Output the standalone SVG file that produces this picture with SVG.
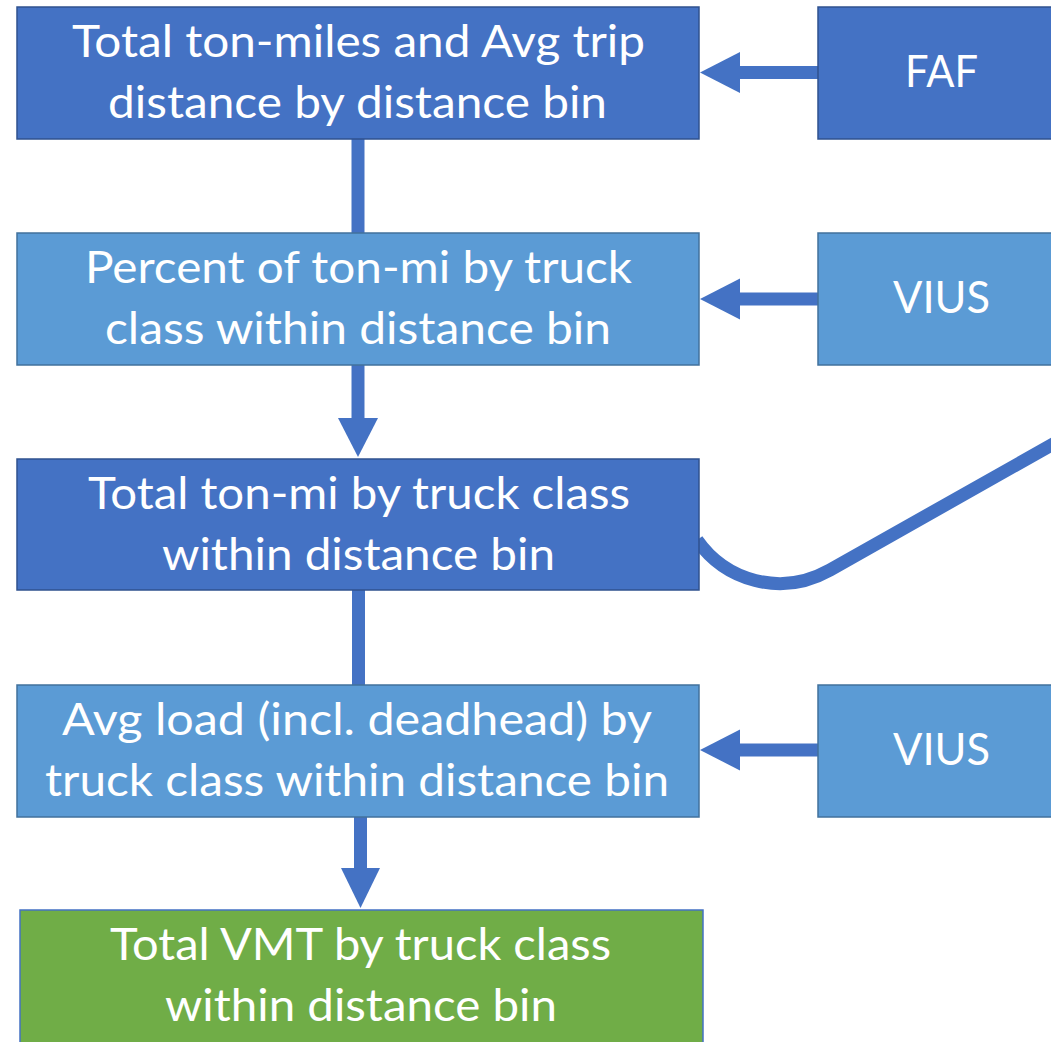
<svg xmlns="http://www.w3.org/2000/svg" width="1051" height="1042" viewBox="0 0 1051 1042">
<style>
.dark{fill:#4472C4;stroke:#2F528F;stroke-width:1.5}
.light{fill:#5B9BD5;stroke:#41719C;stroke-width:1.5}
.green{fill:#70AD47;stroke:#4472C4;stroke-width:1.5}
.t{font-family:Lato,"Open Sans","Liberation Sans",sans-serif;font-size:45px;fill:#FFFFFF;text-anchor:middle}
.c{stroke:#4472C4;stroke-width:13;fill:none}
.h{fill:#4472C4}
</style>
<rect width="1051" height="1042" fill="#FFFFFF"/>
<g id="connectors">
<line class="c" x1="818" y1="72.5" x2="738" y2="72.5"/>
<polygon class="h" points="700,72.5 740,52 740,93"/>
<line class="c" x1="818" y1="299" x2="738" y2="299"/>
<polygon class="h" points="700,299 740,278.5 740,319.5"/>
<line class="c" x1="818" y1="750" x2="738" y2="750"/>
<polygon class="h" points="700,750 740,729.5 740,770.5"/>
<line class="c" x1="358" y1="139" x2="358" y2="233"/>
<line class="c" x1="358" y1="365" x2="358" y2="420"/>
<polygon class="h" points="358,457 338,418 378,418"/>
<line class="c" x1="358.5" y1="590" x2="358.5" y2="685"/>
<line class="c" x1="360.5" y1="817" x2="360.5" y2="870"/>
<polygon class="h" points="360.5,908 341,868 380,868"/>
<path class="c" d="M697 540 C725 580 780 598 830 570 L1062 439"/>
</g>
<g id="node-totaltonmiles">
<rect class="dark" x="17" y="7" width="682" height="132"/>
<text class="t" x="358.5" y="57" textLength="573" lengthAdjust="spacingAndGlyphs">Total ton-miles and Avg trip</text>
<text class="t" x="357.5" y="118" textLength="499" lengthAdjust="spacingAndGlyphs">distance by distance bin</text>
</g>
<g id="node-faf">
<rect class="dark" x="818" y="7" width="250" height="132"/>
<text class="t" x="941.5" y="87" textLength="73" lengthAdjust="spacingAndGlyphs">FAF</text>
</g>
<g id="node-percent">
<rect class="light" x="17" y="233" width="682" height="132"/>
<text class="t" x="358.5" y="283" textLength="547" lengthAdjust="spacingAndGlyphs">Percent of ton-mi by truck</text>
<text class="t" x="358" y="344" textLength="506" lengthAdjust="spacingAndGlyphs">class within distance bin</text>
</g>
<g id="node-vius1">
<rect class="light" x="818" y="233" width="250" height="132"/>
<text class="t" x="941.5" y="313" textLength="97" lengthAdjust="spacingAndGlyphs">VIUS</text>
</g>
<g id="node-totaltonmi">
<rect class="dark" x="17" y="459" width="682" height="131"/>
<text class="t" x="359" y="509" textLength="542" lengthAdjust="spacingAndGlyphs">Total ton-mi by truck class</text>
<text class="t" x="358.5" y="570" textLength="393" lengthAdjust="spacingAndGlyphs">within distance bin</text>
</g>
<g id="node-avgload">
<rect class="light" x="17" y="685" width="682" height="132"/>
<text class="t" x="357" y="735" textLength="590" lengthAdjust="spacingAndGlyphs">Avg load (incl. deadhead) by</text>
<text class="t" x="357" y="796" textLength="624" lengthAdjust="spacingAndGlyphs">truck class within distance bin</text>
</g>
<g id="node-vius2">
<rect class="light" x="818" y="685" width="250" height="132"/>
<text class="t" x="941.5" y="765" textLength="97" lengthAdjust="spacingAndGlyphs">VIUS</text>
</g>
<g id="node-totalvmt">
<rect class="green" x="20" y="910" width="683" height="140"/>
<text class="t" x="360.5" y="960" textLength="501" lengthAdjust="spacingAndGlyphs">Total VMT by truck class</text>
<text class="t" x="361" y="1021" textLength="392" lengthAdjust="spacingAndGlyphs">within distance bin</text>
</g>
</svg>
